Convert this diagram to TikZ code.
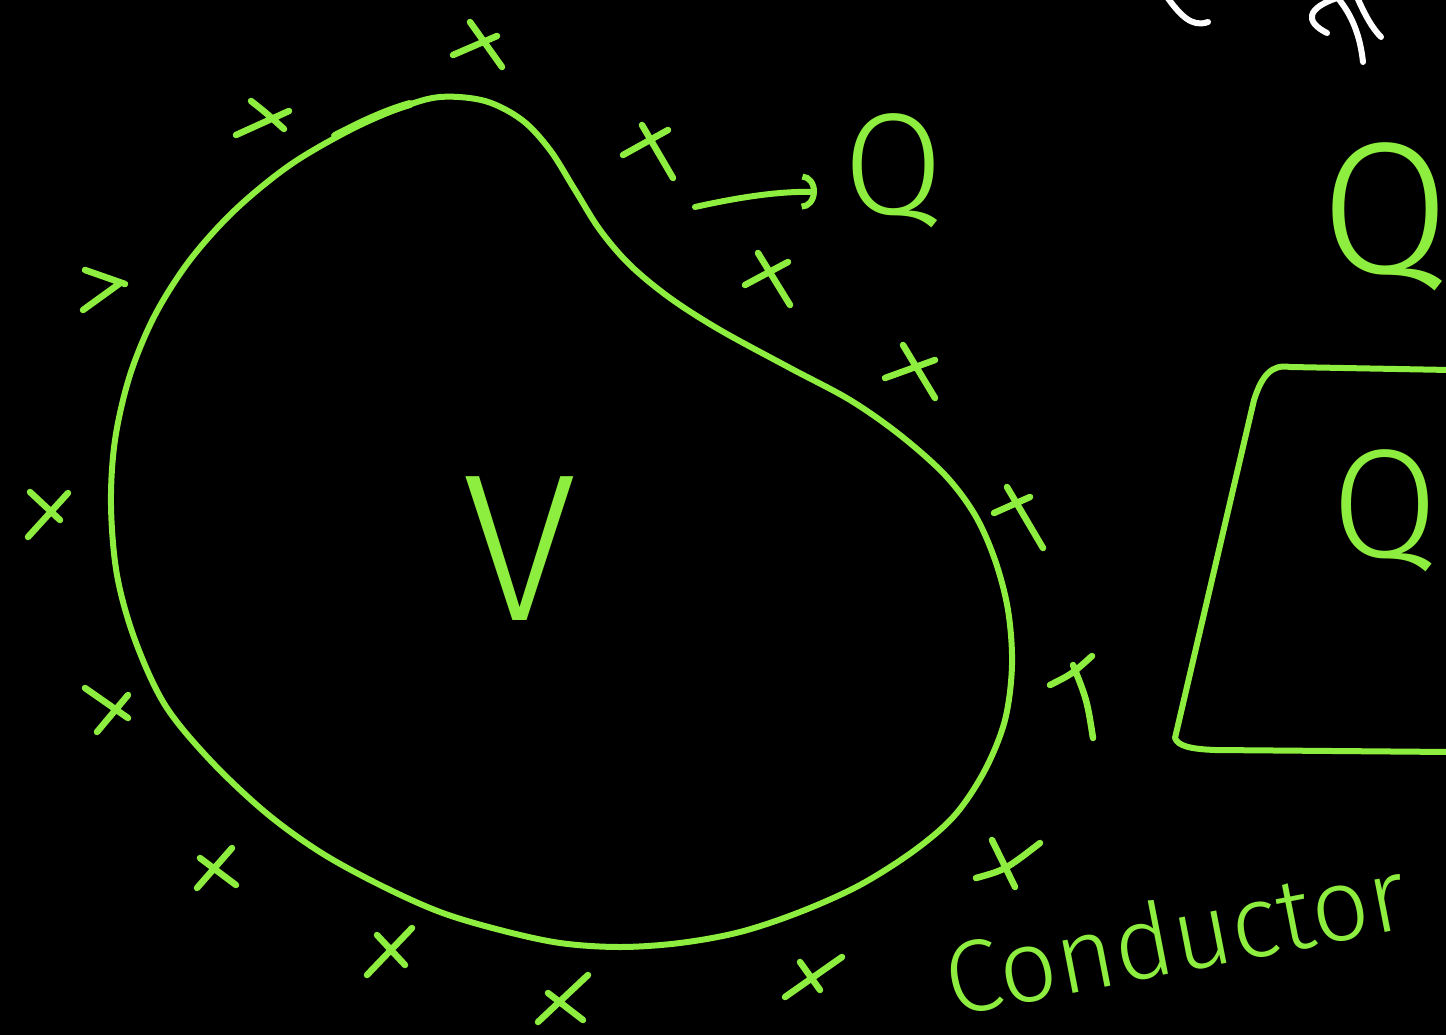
\documentclass[tikz,border=0pt]{standalone}
\usepackage{fontspec}
\newfontfamily\xlfont{Fira Sans}[UprightFont={* Light}]
\usetikzlibrary{arrows.meta}
\definecolor{chalk}{RGB}{141,238,64}
\begin{document}
\begin{tikzpicture}[x=1pt,y=-1pt,line cap=round,line join=round,
  stroke/.style={draw=chalk,line width=6pt},
  chargemark/.style={draw=chalk,line width=6.5pt},
  chalkwhite/.style={draw=white,line width=6pt},
  handtext/.style={text=chalk,inner sep=0pt,anchor=base}]
\useasboundingbox (0,0) rectangle (1446,1035);
\fill[black] (0,0) rectangle (1446,1035);
\clip (0,0) rectangle (1446,1035);

% conductor outline
\draw[stroke] plot[smooth cycle,tension=0.55] coordinates {
 (440,97) (485,101) (522,120) (550,150) (575,190) (600,230) (630,265) (670,298)
 (720,330) (790,368) (850,400) (900,435) (945,475) (975,515) (995,560) (1008,610)
 (1012,665) (1005,720) (985,770) (955,815) (915,850) (860,885) (800,912) (740,932)
 (680,943) (620,947) (560,943) (500,930) (440,912) (380,885) (320,852) (265,812)
 (210,760) (165,705) (135,640) (117,575) (111,505) (115,440) (130,375) (155,315)
 (190,260) (235,210) (290,165) (350,130) (400,108)};
\draw[draw=chalk,line width=8pt] (335,136) .. controls (360,123) and (385,111) .. (410,104);

% charges
\draw[chargemark] (453,55) -- (497,36) (470,22) -- (502,67);
\draw[chargemark] (236,135) -- (289,111) (251,101) .. controls (265,112) .. (284,129);
\draw[chargemark] (85,270) -- (125,284) (83,310) -- (119,284);
\draw[chargemark] (30,492) -- (60,520) (68,493) -- (28,537);
\draw[chargemark] (85,688) -- (128,718) (128,695) -- (97,732);
\draw[chargemark] (232,848) -- (197,888) (200,858) -- (236,885);
\draw[chargemark] (412,928) -- (367,975) (377,935) -- (405,965);
\draw[chargemark] (588,975) -- (538,1022) (548,993) -- (583,1020);
\draw[chargemark] (842,957) -- (785,997) (800,962) -- (820,990);
\draw[chargemark] (976,878) .. controls (1005,870) .. (1040,843) (992,840) -- (1015,887);
\draw[chargemark] (1050,685) .. controls (1072,674) .. (1092,656) (1073,665) .. controls (1087,700) .. (1093,738);
\draw[chargemark] (994,513) -- (1030,497) (1007,487) -- (1043,548);
\draw[chargemark] (885,378) -- (935,360) (903,345) -- (935,398);
\draw[chargemark] (745,285) -- (788,262) (758,253) -- (790,305);
\draw[chargemark] (623,155) -- (668,130) (642,125) -- (673,178);

% labels
\node[handtext,font=\xlfont\fontsize{210}{210}\selectfont] (vlabel) at (520,620) {V};
\node[handtext,font=\xlfont\fontsize{145}{145}\selectfont] (q1) at (894,215) {Q};
\node[handtext,font=\xlfont\fontsize{188}{188}\selectfont] (q2) at (1385,273) {Q};
\node[handtext,font=\xlfont\fontsize{155}{155}\selectfont] (q3) at (1385,557) {Q};
\node[handtext,font=\xlfont\fontsize{102}{102}\selectfont,rotate=11] (cond) at (1182,972) {Conductor};

% arrow towards the charge
\coordinate (arrS) at (695,207);
\coordinate (arrE) at (817,192);
\draw[stroke,-{Arc Barb[length=15pt,width=36pt]}] (arrS) .. controls (740,197) and (780,191) .. (arrE);

% second body
\draw[stroke] (1450,370) -- (1290,367) .. controls (1272,364) and (1262,375) .. (1254,400)
  -- (1175,738) .. controls (1178,746) and (1190,749) .. (1215,750) -- (1450,752);

% cut-off white writing at the top
\draw[chalkwhite] (1167,-3) .. controls (1180,15) and (1192,28) .. (1208,22);
\draw[chalkwhite] (1327,33) .. controls (1305,22) and (1305,8) .. (1340,-3);
\draw[chalkwhite] (1337,-3) .. controls (1352,15) and (1360,35) .. (1363,62);
\draw[chalkwhite] (1357,-3) .. controls (1365,15) and (1372,28) .. (1381,37);
\end{tikzpicture}
\end{document}
